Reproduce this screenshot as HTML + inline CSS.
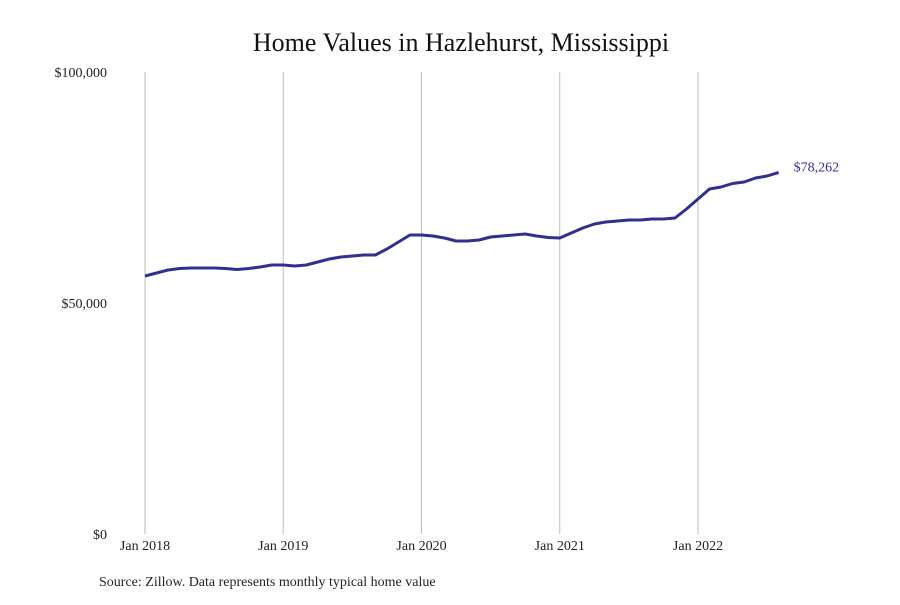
<!DOCTYPE html>
<html><head><meta charset="utf-8"><style>
body{margin:0;background:#fff;}
svg text{font-family:"Liberation Serif",serif;}
</style></head><body>
<svg id="chart" width="900" height="600">
<text x="461" y="51" font-size="26" text-anchor="middle" fill="#111">Home Values in Hazlehurst, Mississippi</text>
<g id="grid"></g><g id="yticks"></g><g id="xticks"></g>
<path id="line" fill="none" stroke="#332f91" stroke-width="3" stroke-linejoin="round"></path>
<text id="endlabel" font-size="14" fill="#332f91"></text>
<text x="99" y="586" font-size="14" fill="#222">Source: Zillow. Data represents monthly typical home value</text>
</svg>
<script>
const values=[55844,56493,57143,57468,57576,57576,57576,57468,57251,57468,57792,58225,
58225,58009,58225,58874,59524,59957,60173,60390,60390,61688,63203,64719,
64719,64502,64069,63420,63420,63636,64286,64502,64719,64935,64502,64177,
64069,65152,66234,67100,67532,67749,67965,67965,68182,68182,68398,70346,
72511,74675,75108,75866,76190,77056,77489,78262];
const yTicks=[0,50000,100000];
const yTickLabels=["$0","$50,000","$100,000"];
const xTickIdx=[0,12,24,36,48];
const xTickLabels=["Jan 2018","Jan 2019","Jan 2020","Jan 2021","Jan 2022"];
const endLabel="$78,262";
const NS="http://www.w3.org/2000/svg";
const x=i=>145+i*(698-145)/48;
const y=v=>534-v*(534-72)/100000;
function mk(t,a,p){const e=document.createElementNS(NS,t);for(const k in a)e.setAttribute(k,a[k]);document.getElementById(p).appendChild(e);return e;}
xTickIdx.forEach((idx,k)=>{
 const l=mk('line',{x1:x(idx),x2:x(idx),y1:72,y2:534,stroke:'#bbb','stroke-width':1},'grid');
 
 
 const t=mk('text',{x:x(idx),y:550,'font-size':14,'text-anchor':'middle',fill:'#222'},'xticks');
 t.textContent=xTickLabels[k];
 
 
});
yTicks.forEach((v,k)=>{
 const t=mk('text',{x:107,y:y(v)+5,'font-size':14,'text-anchor':'end',fill:'#222'},'yticks');
 t.textContent=yTickLabels[k];
 
 
});
document.getElementById('line').setAttribute('d',values.map((v,i)=>(i?'L':'M')+x(i)+','+y(v)).join(''));
const n=values.length-1;
const el=document.getElementById('endlabel');
el.setAttribute('x',x(n)+15);el.setAttribute('y',y(values[n])-1);el.textContent=endLabel;
</script>
</body></html>
